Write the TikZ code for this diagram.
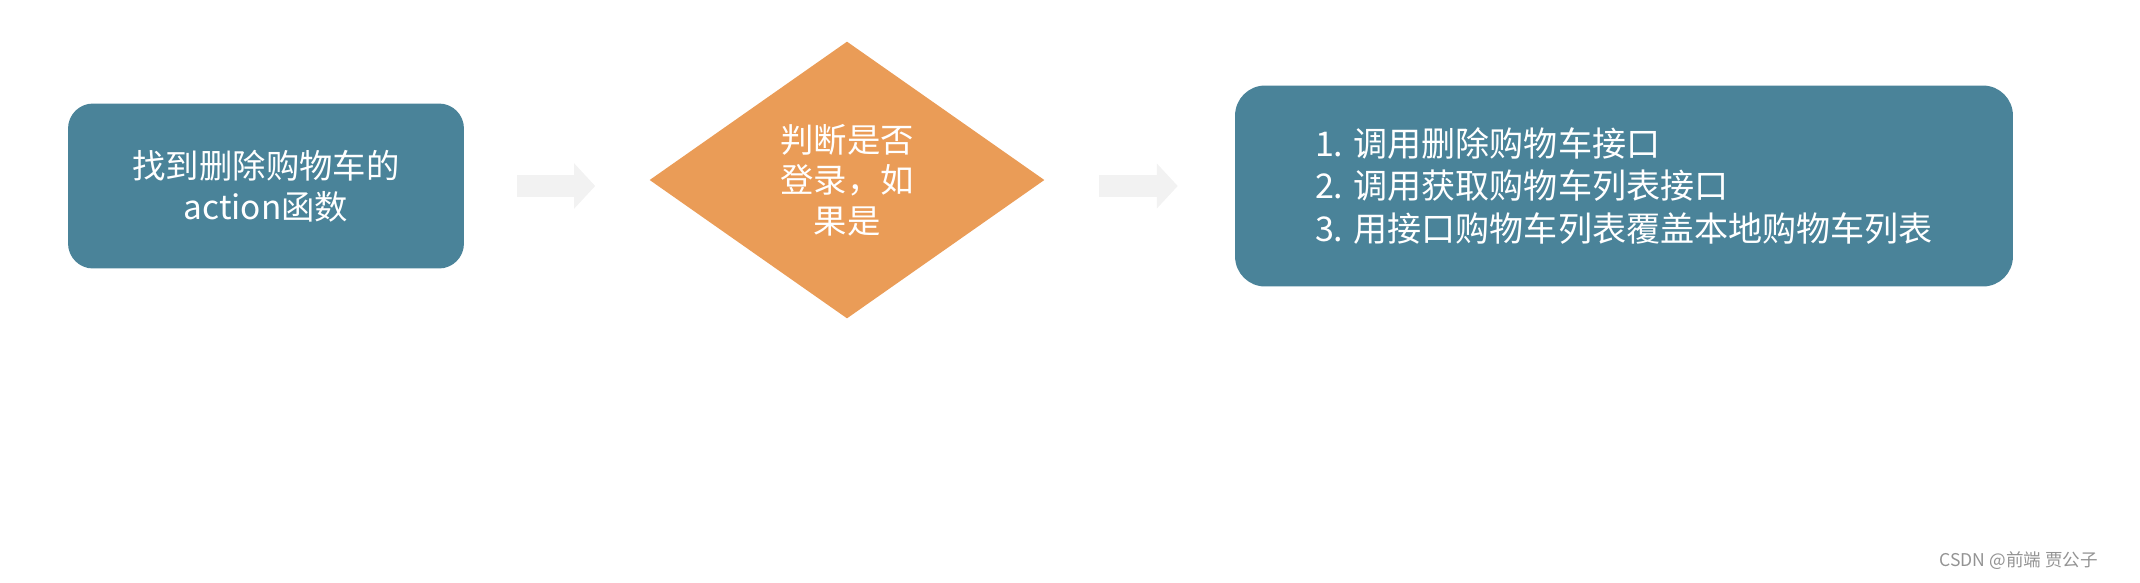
\documentclass[tikz,border=0pt]{standalone}
\usepackage{fontspec}
\setmainfont{Noto Sans CJK SC}
\usepackage{tikz}
\usetikzlibrary{arrows.meta,positioning,shapes.geometric}
\definecolor{boxteal}{RGB}{74,131,153}
\definecolor{diaorange}{RGB}{234,156,87}
\definecolor{arrowgray}{RGB}{242,242,242}

\begin{document}
\begin{tikzpicture}[
  x=0.02cm, y=-0.02cm,
  box/.style={fill=boxteal, text=white, rounded corners=0.5cm, align=center,
              font=\fontsize{19}{23.5}\selectfont},
  decision/.style={diamond, fill=diaorange, text=white, inner sep=0pt,
              minimum width=7.9cm, minimum height=5.54cm, align=center,
              font=\fontsize{19}{23}\selectfont},
  flow/.style={arrowgray, line width=0.44cm, -{Triangle[length=0.42cm, width=0.88cm]}},
  credit/.style={text=gray!85, font=\fontsize{10}{11}\selectfont}
]
\useasboundingbox (0,0) rectangle (2140,582);

\node[box, minimum width=7.92cm, minimum height=3.3cm] (find) at (266,186)
  {找到删除购物车的\\action函数};
\node[decision] (login) at (847,180) {判断是否\\登录，如\\果是};
\node[box, minimum width=15.56cm, minimum height=4.02cm, rounded corners=0.6cm,
      align=left, font=\fontsize{19.4}{24}\selectfont] (update) at (1624,186)
  {1. 调用删除购物车接口\\2. 调用获取购物车列表接口\\3. 用接口购物车列表覆盖本地购物车列表\hspace{0.2cm}};

\draw[flow, shorten <=1.06cm, shorten >=1.08cm] (find.east) -- (find.east -| login.west);
\draw[flow, shorten <=1.08cm, shorten >=1.14cm] (find.east -| login.east) -- (find.east -| update.west);

\node[credit, anchor=east] (mark) at (2104,561) {CSDN @前端 贾公子};
\end{tikzpicture}
\end{document}
